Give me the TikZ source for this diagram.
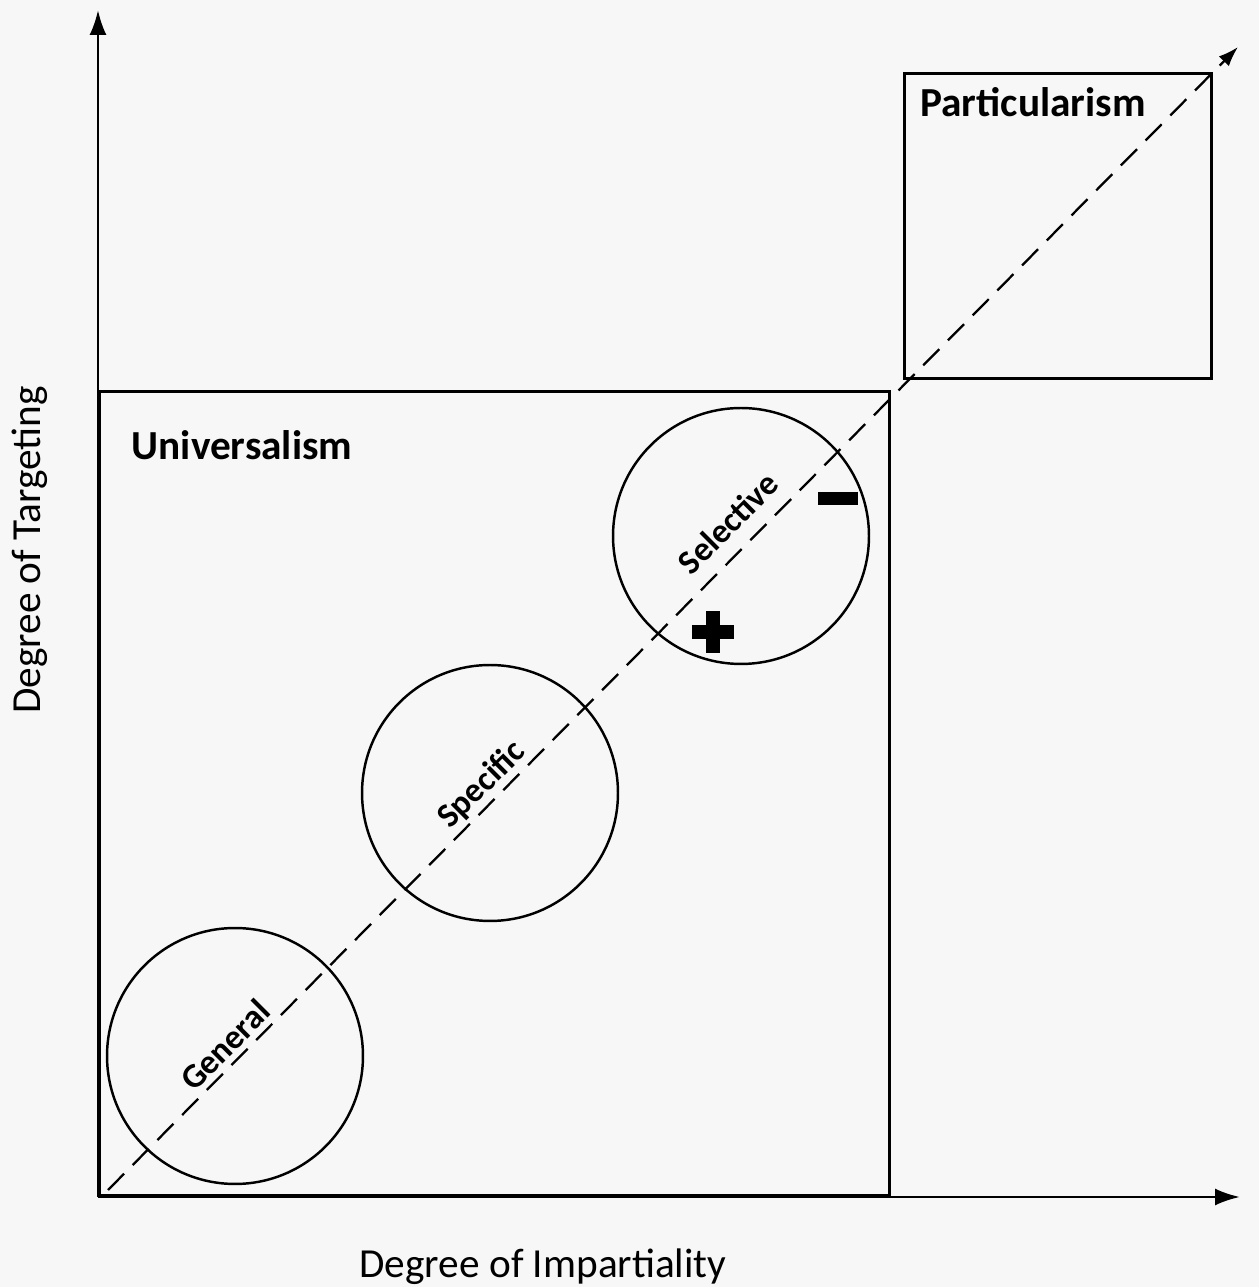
\documentclass[tikz,border=0pt]{standalone}
\usepackage{fontspec}
\setmainfont{Carlito}
\usetikzlibrary{shapes, arrows.meta, positioning}
\definecolor{paper}{HTML}{F7F7F7}
\tikzstyle{every node}=[font=\fontsize{23.5}{28}\selectfont]
\tikzstyle{zone}=[draw,rectangle,line width=1.6pt,inner sep=0pt]
\tikzstyle{ring}=[draw,circle,line width=1.4pt,minimum size=5.12cm,inner sep=0pt]
\tikzstyle{ringlabel}=[font=\fontsize{19.5}{23}\selectfont\bfseries,rotate=45,inner sep=1pt]
\tikzstyle{boxlabel}=[font=\fontsize{23.5}{28}\selectfont\bfseries]
\newcommand{\diag}[1]{\mbox{#1}}

\begin{document}
\begin{tikzpicture}[x=0.02cm,y=0.02cm,>={Latex[length=0.5cm,width=0.34cm]}]
  \fill[paper] (0,0) rectangle (1259,1287);
  \useasboundingbox (0,0) rectangle (1259,1287);
  % axes
  \coordinate (o) at (98,90);
  \coordinate (ytop) at (98,1277);
  \coordinate (xend) at (1240,90);
  \draw[->,line width=1.6pt] (o) -- (ytop);
  \draw[->,line width=1.6pt] (o) -- (xend);
  \node[rotate=90] (ylab) at (30,737) {Degree of Targeting};
  \node (xlab) at (543,20) {Degree of Impartiality};
  % regions
  \node[zone, minimum width=15.8cm, minimum height=16.08cm, anchor=south west] (univ) at (o) {};
  \node[zone, minimum width=6.14cm, minimum height=6.1cm, anchor=south west] (part) at (903,907) {};
  \node[boxlabel] (ulab) at (242,842) {Universalism};
  \node[boxlabel] (plab) at (1033,1185) {Particularism};
  % diagonal
  \coordinate (dstart) at (108,97);
  \coordinate (dend) at (1238,1240);
  \draw[->,line width=1.3pt,dash pattern=on 13pt off 7pt,
        >={Latex[length=0.4cm,width=0.28cm]}] (dstart) -- (dend);
  % circles
  \node[ring] (gen) at (235,231) {};
  \node[ring] (spec) at (490,494) {};
  \node[ring] (sel) at (741,751) {};
  \node[ringlabel] (genlab) at (225,242) {\diag{General}};
  \node[ringlabel] (speclab) at (482,502) {\diag{Specific}};
  \node[ringlabel] (sellab) at (728,764) {\diag{Selective}};
  % signs
  \node[fill=black, minimum width=0.8cm, minimum height=0.26cm, inner sep=0pt] (minus) at (838,788) {};
  \node[inner sep=0pt] (plus) at (713,655) {};
  \fill (plus) ++(-21,-7) rectangle ++(42,14);
  \fill (plus) ++(-7,-21) rectangle ++(14,42);
\end{tikzpicture}
\end{document}
